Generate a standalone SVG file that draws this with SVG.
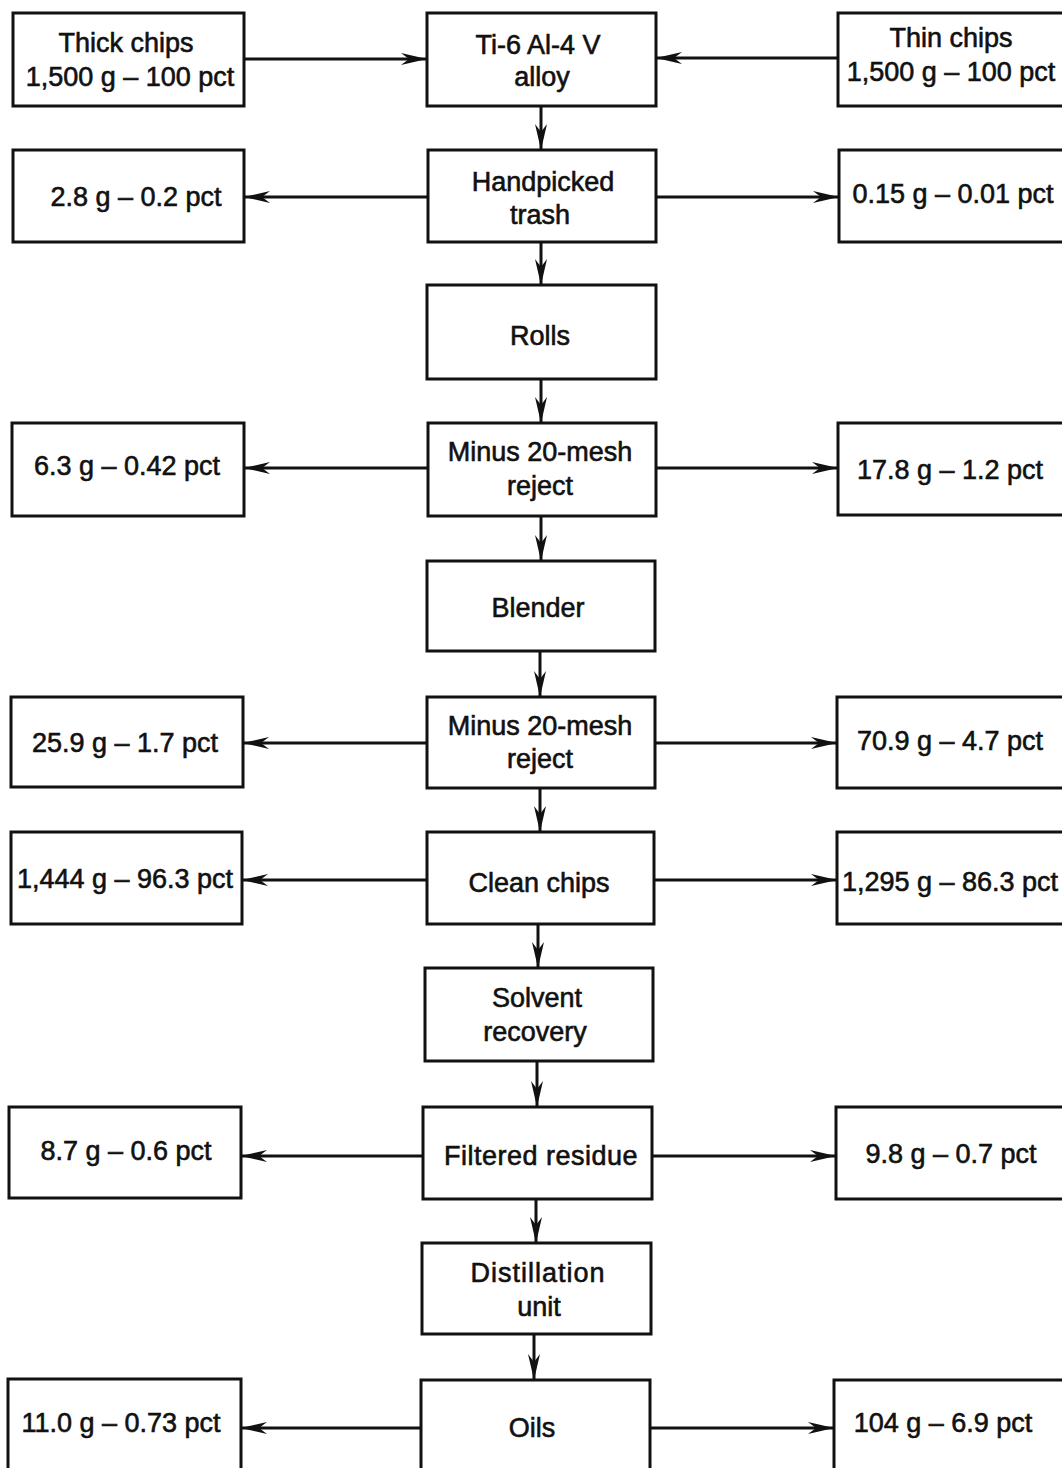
<svg xmlns="http://www.w3.org/2000/svg" width="1062" height="1468" viewBox="0 0 1062 1468">
<defs>
<style>
.box{fill:#fff;stroke:#111;stroke-width:3}
.t{font-family:"Liberation Sans",Arial,sans-serif;font-size:27px;fill:#111;stroke:#111;stroke-width:0.6;text-anchor:middle}
.c{stroke:#111;stroke-width:3;fill:none;marker-end:url(#ah)}
</style>
<marker id="ah" markerUnits="userSpaceOnUse" markerWidth="26" markerHeight="14" viewBox="0 0 26 14" refX="25" refY="7" orient="auto">
<path d="M0,1 L26,7 L0,13 L8,7 Z" fill="#111"/>
</marker>
</defs>
<rect width="1062" height="1468" fill="#fff"/>
<g id="connectors">
<line class="c" x1="244" y1="59" x2="426" y2="59"/>
<line class="c" x1="838" y1="58" x2="657" y2="58"/>
<line class="c" x1="541" y1="106" x2="541" y2="149"/>
<line class="c" x1="428" y1="197" x2="245" y2="197"/>
<line class="c" x1="656" y1="197" x2="838" y2="197"/>
<line class="c" x1="541" y1="242" x2="541" y2="284"/>
<line class="c" x1="541" y1="379" x2="541" y2="422"/>
<line class="c" x1="428" y1="468" x2="245" y2="468"/>
<line class="c" x1="656" y1="468" x2="837" y2="468"/>
<line class="c" x1="541" y1="516" x2="541" y2="560"/>
<line class="c" x1="540" y1="651" x2="540" y2="696"/>
<line class="c" x1="427" y1="743" x2="244" y2="743"/>
<line class="c" x1="655" y1="743" x2="836" y2="743"/>
<line class="c" x1="540" y1="788" x2="540" y2="831"/>
<line class="c" x1="427" y1="880" x2="243" y2="880"/>
<line class="c" x1="654" y1="880" x2="836" y2="880"/>
<line class="c" x1="538" y1="924" x2="538" y2="967"/>
<line class="c" x1="537" y1="1061" x2="537" y2="1106"/>
<line class="c" x1="423" y1="1156" x2="242" y2="1156"/>
<line class="c" x1="652" y1="1156" x2="835" y2="1156"/>
<line class="c" x1="536" y1="1199" x2="536" y2="1242"/>
<line class="c" x1="534" y1="1334" x2="534" y2="1379"/>
<line class="c" x1="421" y1="1428" x2="242" y2="1428"/>
<line class="c" x1="650" y1="1428" x2="833" y2="1428"/>
</g>
<g id="thick"><rect class="box" x="13" y="13" width="231" height="93"/><text class="t" x="126" y="52">Thick chips</text><text class="t" x="130" y="86">1,500 g – 100 pct</text></g>
<g id="alloy"><rect class="box" x="427" y="13" width="229" height="93"/><text class="t" x="538" y="54">Ti-6 Al-4 V</text><text class="t" x="542" y="86">alloy</text></g>
<g id="thin"><rect class="box" x="838" y="13" width="230" height="93"/><text class="t" x="951" y="47">Thin chips</text><text class="t" x="951" y="81">1,500 g – 100 pct</text></g>
<g id="l1"><rect class="box" x="13" y="150" width="231" height="92"/><text class="t" x="136" y="206">2.8 g – 0.2 pct</text></g>
<g id="handpicked"><rect class="box" x="428" y="150" width="228" height="92"/><text class="t" x="543" y="191">Handpicked</text><text class="t" x="540" y="224">trash</text></g>
<g id="r1"><rect class="box" x="839" y="150" width="229" height="92"/><text class="t" x="953" y="203">0.15 g – 0.01 pct</text></g>
<g id="rolls"><rect class="box" x="427" y="285" width="229" height="94"/><text class="t" x="540" y="345">Rolls</text></g>
<g id="l2"><rect class="box" x="12" y="423" width="232" height="93"/><text class="t" x="127" y="475">6.3 g – 0.42 pct</text></g>
<g id="mesh1"><rect class="box" x="428" y="423" width="228" height="93"/><text class="t" x="540" y="461">Minus 20-mesh</text><text class="t" x="540" y="495">reject</text></g>
<g id="r2"><rect class="box" x="838" y="423" width="230" height="92"/><text class="t" x="950" y="479">17.8 g – 1.2 pct</text></g>
<g id="blender"><rect class="box" x="427" y="561" width="228" height="90"/><text class="t" x="538" y="617">Blender</text></g>
<g id="l3"><rect class="box" x="11" y="697" width="232" height="90"/><text class="t" x="125" y="752">25.9 g – 1.7 pct</text></g>
<g id="mesh2"><rect class="box" x="427" y="697" width="228" height="91"/><text class="t" x="540" y="735">Minus 20-mesh</text><text class="t" x="540" y="768">reject</text></g>
<g id="r3"><rect class="box" x="837" y="697" width="231" height="91"/><text class="t" x="950" y="750">70.9 g – 4.7 pct</text></g>
<g id="l4"><rect class="box" x="11" y="832" width="231" height="92"/><text class="t" x="125" y="888">1,444 g – 96.3 pct</text></g>
<g id="clean"><rect class="box" x="427" y="832" width="227" height="92"/><text class="t" x="539" y="892">Clean chips</text></g>
<g id="r4"><rect class="box" x="837" y="832" width="231" height="92"/><text class="t" x="950" y="891">1,295 g – 86.3 pct</text></g>
<g id="solvent"><rect class="box" x="425" y="968" width="228" height="93"/><text class="t" x="537" y="1007">Solvent</text><text class="t" x="535" y="1041">recovery</text></g>
<g id="l5"><rect class="box" x="9" y="1107" width="232" height="91"/><text class="t" x="126" y="1160">8.7 g – 0.6 pct</text></g>
<g id="filtered"><rect class="box" x="423" y="1107" width="229" height="92"/><text class="t" x="541" y="1165" letter-spacing="0.5">Filtered residue</text></g>
<g id="r5"><rect class="box" x="836" y="1107" width="232" height="92"/><text class="t" x="951" y="1163">9.8 g – 0.7 pct</text></g>
<g id="distill"><rect class="box" x="422" y="1243" width="229" height="91"/><text class="t" x="538" y="1282" letter-spacing="1">Distillation</text><text class="t" x="539" y="1316">unit</text></g>
<g id="l6"><rect class="box" x="8" y="1379" width="233" height="100"/><text class="t" x="121" y="1432">11.0 g – 0.73 pct</text></g>
<g id="oils"><rect class="box" x="421" y="1380" width="229" height="100"/><text class="t" x="532" y="1437">Oils</text></g>
<g id="r6"><rect class="box" x="834" y="1380" width="234" height="100"/><text class="t" x="943" y="1432">104 g – 6.9 pct</text></g>
</svg>
